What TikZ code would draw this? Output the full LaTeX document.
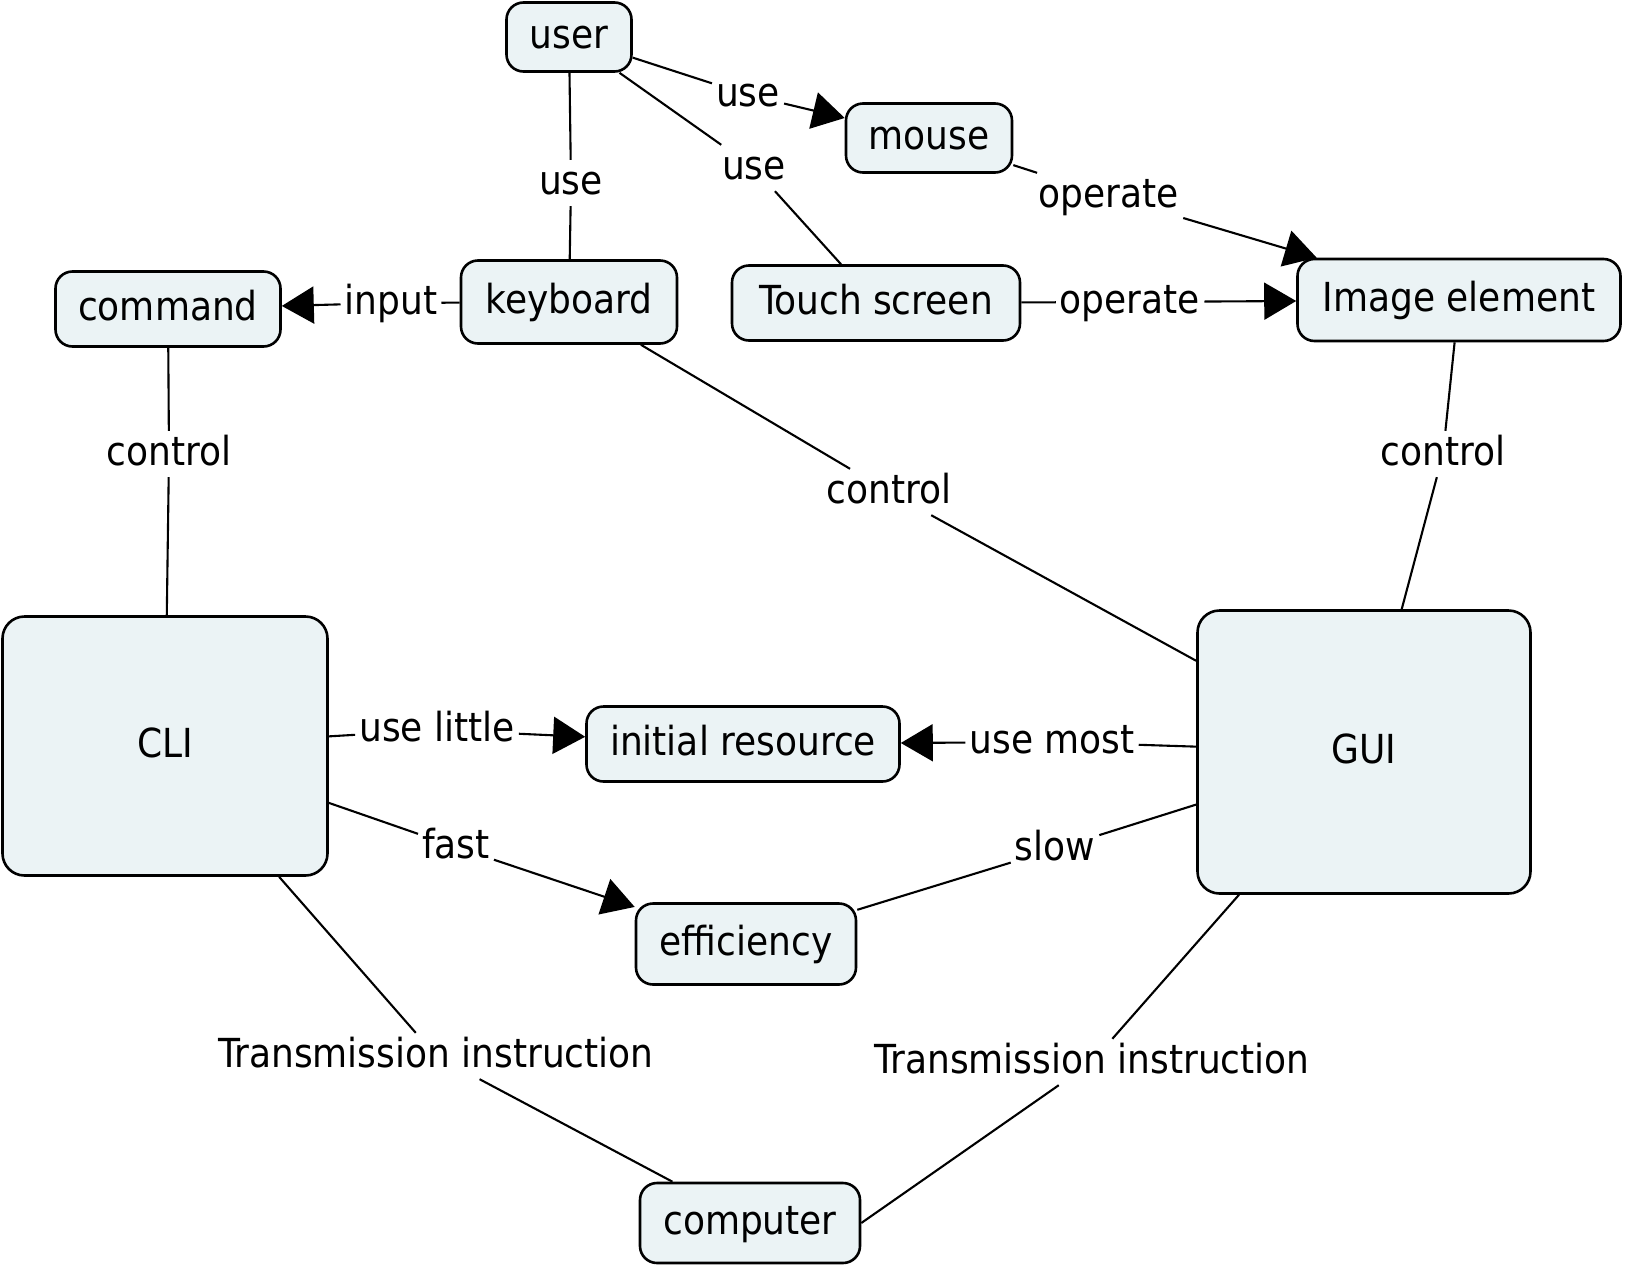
\documentclass[tikz,border=0pt]{standalone}
\usepackage{fontspec}
\setmainfont{DejaVu Sans Condensed}
\usetikzlibrary{arrows.meta}
\definecolor{cfill}{RGB}{235,243,245}
\begin{document}
\begin{tikzpicture}[x=1pt,y=-1pt,
  txt/.style={font=\fontsize{40}{47}\selectfont, text height=30pt, text depth=8pt},
  concept/.style={txt, draw, line width=2.6pt, fill=cfill, rounded corners=17pt, inner sep=0pt},
  big/.style={concept, rounded corners=22pt},
  lbl/.style={txt, inner sep=4pt},
  conn/.style={line width=2.1pt},
  arr/.style={conn, -{Triangle[length=32pt,width=37pt]}}
]
\useasboundingbox (0,0) rectangle (1628,1272);
% concepts
\node[concept, minimum width=125pt, minimum height=69pt] (user) at (569,37) {user};
\node[concept, minimum width=166pt, minimum height=69pt] (mouse) at (929,138) {mouse};
\node[concept, minimum width=225pt, minimum height=75pt] (command) at (168,309) {command};
\node[concept, minimum width=216pt, minimum height=83pt] (keyboard) at (569,302) {keyboard};
\node[concept, minimum width=288pt, minimum height=75pt] (touch) at (876,303) {Touch screen};
\node[concept, minimum width=323pt, minimum height=82pt] (image) at (1459,300) {Image element};
\node[big, minimum width=325pt, minimum height=259pt] (cli) at (165,746) {CLI};
\node[big, minimum width=333pt, minimum height=283pt] (gui) at (1364,752) {GUI};
\node[concept, minimum width=313pt, minimum height=75pt] (res) at (743,744) {initial resource};
\node[concept, minimum width=220pt, minimum height=81pt] (eff) at (746,944) {efficiency};
\node[concept, minimum width=220pt, minimum height=80pt] (comp) at (750,1223) {computer};
% labels
\node[lbl] (l1) at (571,183) {use};
\node[lbl] (l2) at (748,95) {use};
\node[lbl] (l3) at (754,168) {use};
\node[lbl] (l4) at (1109,196) {operate};
\node[lbl] (l5) at (1130,302) {operate};
\node[lbl] (l6) at (391,303) {input};
\node[lbl] (l7) at (169,454) {control};
\node[lbl] (l8) at (889,492) {control};
\node[lbl] (l9) at (1443,454) {control};
\node[lbl] (l10) at (437,730) {use little};
\node[lbl] (l11) at (1052,742) {use most};
\node[lbl] (l12) at (456,847) {fast};
\node[lbl] (l13) at (1055,849) {slow};
\node[lbl] (l14) at (436,1056) {Transmission instruction};
\node[lbl] (l15) at (1092,1062) {Transmission instruction};
% connectors
\draw[conn] (user) -- (l1) -- (keyboard);
\draw[conn] (user) -- (l2); \draw[arr] (l2) -- (mouse);
\draw[conn] (user) -- (l3) -- (touch);
\draw[conn] (mouse) -- (l4); \draw[arr] (l4) -- (image);
\draw[conn] (touch) -- (l5); \draw[arr] (l5) -- (image);
\draw[conn] (keyboard) -- (l6); \draw[arr] (l6) -- (command);
\draw[conn] (command) -- (l7) -- (cli);
\draw[conn] (keyboard) -- (l8) -- (gui);
\draw[conn] (image) -- (l9) -- (gui);
\draw[conn] (cli) -- (l10); \draw[arr] (l10) -- (res);
\draw[conn] (gui) -- (l11); \draw[arr] (l11) -- (res);
\draw[conn] (cli) -- (l12); \draw[arr] (l12) -- (eff);
\draw[conn] (gui) -- (l13) -- (eff);
\draw[conn] (cli) -- (l14) -- (comp);
\draw[conn] (gui) -- (l15) -- (comp.east);
\end{tikzpicture}
\end{document}
